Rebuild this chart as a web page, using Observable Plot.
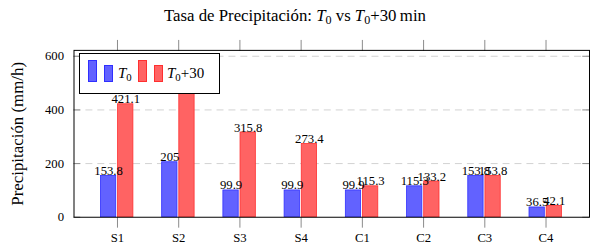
<!DOCTYPE html>
<html>
<head>
<meta charset="utf-8">
<script src="https://cdn.jsdelivr.net/npm/d3@7"></script>
<script src="https://cdn.jsdelivr.net/npm/@observablehq/plot@0.6"></script>
<style>
  html, body { margin: 0; padding: 0; background: #fff; overflow: hidden; }
  #wrap { position: relative; width: 590px; height: 252px; overflow: hidden; font-family: "Liberation Serif", "DejaVu Serif", serif; color: #000; }
  #title { height: 32px; line-height: 31px; text-align: center; font-size: 16.8px; white-space: nowrap; }
  #title i, #legend i { font-style: italic; }
  sub { font-size: 0.72em; vertical-align: -0.28em; line-height: 0; }
  #legend { position: absolute; left: 79px; top: 53px; width: 139px; height: 39px; border: 1px solid #000; background: #fff; box-sizing: content-box; }
  .sw { position: absolute; box-sizing: border-box; }
  .lt { position: absolute; font-size: 15px; line-height: 1; white-space: nowrap; }
</style>
</head>
<body>
<div id="wrap">
  <div id="title">Tasa de Precipitación: <i>T</i><sub>0</sub> vs <i>T</i><sub>0</sub>+30&#8201;min</div>
  <div id="chart"></div>
  <div id="legend"></div>
</div>
<script>
// ---- data ----
const categories = ["S1", "S2", "S3", "S4", "C1", "C2", "C3", "C4"];
const seriesT0 = [153.8, 205, 99.9, 99.9, 99.9, 115.3, 153.8, 36.5];
const seriesT30 = [421.1, 526.3, 315.8, 273.4, 115.3, 133.2, 153.8, 42.1];
const yTicks = [0, 200, 400, 600];
const yLabel = "Precipitación (mm/h)";

// ---- style ----
const blueFill = "#6262ff", blueStroke = "#2f2fff";
const redFill = "#ff6363", redStroke = "#ff2f2f";
const pad = 0.71;            // enlarge x limits (category units)
const halfW = 0.125;         // half bar width
const offB = -0.145, offR = 0.135;

const idx = categories.map((c, i) => i);
const rowsB = idx.map(i => ({i, v: seriesT0[i]}));
const rowsR = idx.map(i => ({i, v: seriesT30[i]}));
const xDom = [-pad, categories.length - 1 + pad];
const tickLen = 0.11;

const chart = Plot.plot({
  width: 594,
  height: 220,
  marginTop: 18,
  marginBottom: 34,
  marginLeft: 74,
  marginRight: 1,
  style: {fontFamily: "Liberation Serif, DejaVu Serif, serif", fontSize: "12.5px", background: "transparent", color: "#000"},
  x: {type: "linear", domain: xDom},
  y: {domain: [0, 622]},
  marks: [
    // dashed grid
    Plot.ruleY(yTicks.filter(t => t > 0), {x1: xDom[0], x2: xDom[1], stroke: "#d2d2d2", strokeWidth: 1, strokeDasharray: "7,5"}),
    // inward y ticks left and right
    Plot.ruleY(yTicks, {x1: xDom[0], x2: xDom[0] + tickLen, stroke: "#8a8a8a"}),
    Plot.ruleY(yTicks, {x1: xDom[1] - tickLen, x2: xDom[1], stroke: "#8a8a8a"}),
    // bars
    Plot.rectY(rowsB, {x1: d => d.i + offB - halfW, x2: d => d.i + offB + halfW, y1: 0, y2: "v", fill: blueFill, stroke: blueStroke, strokeWidth: 0.8}),
    Plot.rectY(rowsR, {x1: d => d.i + offR - halfW, x2: d => d.i + offR + halfW, y1: 0, y2: "v", fill: redFill, stroke: redStroke, strokeWidth: 0.8}),
    // value labels
    Plot.text(rowsB, {x: d => d.i + offB, y: "v", text: d => String(d.v), lineAnchor: "bottom", dy: -1, fontSize: 12.8, fill: "#000"}),
    Plot.text(rowsR, {x: d => d.i + offR, y: "v", text: d => String(d.v), lineAnchor: "bottom", dy: -1, fontSize: 12.8, fill: "#000"}),
    // axes
    Plot.axisY(yTicks, {anchor: "left", tickSize: 0, tickPadding: 10, label: null, fontSize: 12.8}),
    Plot.axisX(idx, {anchor: "bottom", tickSize: 11, tickPadding: 5, tickFormat: i => categories[i], label: null, stroke: "#8a8a8a", fontSize: 12.8}),
    Plot.axisX(idx, {anchor: "top", tickSize: 11, tickFormat: () => "", label: null, stroke: "#8a8a8a"}),
    Plot.frame({stroke: "#000", strokeWidth: 1}),
    // y label
    Plot.text([yLabel], {frameAnchor: "left", textAnchor: "middle", rotate: -90, dx: -57, fontSize: 17, fill: "#000"})
  ]
});
document.getElementById("chart").appendChild(chart);

// ---- legend (static overlay) ----
const legend = document.getElementById("legend");
const lx = 80, ly = 54; // inner origin (page coords)
const items = [
  {fill: blueFill, stroke: blueStroke, x: 88.3, html: "<i>T</i><sub>0</sub>", tx: 118},
  {fill: redFill, stroke: redStroke, x: 138.3, html: "<i>T</i><sub>0</sub>+30", tx: 167}
];
items.forEach(it => {
  const tall = document.createElement("div");
  tall.className = "sw";
  Object.assign(tall.style, {left: (it.x - lx) + "px", top: (60 - ly) + "px", width: "8.5px", height: "22px", background: it.fill, border: "1px solid " + it.stroke});
  legend.appendChild(tall);
  const short = document.createElement("div");
  short.className = "sw";
  Object.assign(short.style, {left: (it.x + 16 - lx) + "px", top: (65 - ly) + "px", width: "8.5px", height: "17px", background: it.fill, border: "1px solid " + it.stroke});
  legend.appendChild(short);
  const t = document.createElement("div");
  t.className = "lt";
  t.innerHTML = it.html;
  Object.assign(t.style, {left: (it.tx - lx) + "px", top: (66 - ly) + "px"});
  legend.appendChild(t);
});
</script>
</body>
</html>
